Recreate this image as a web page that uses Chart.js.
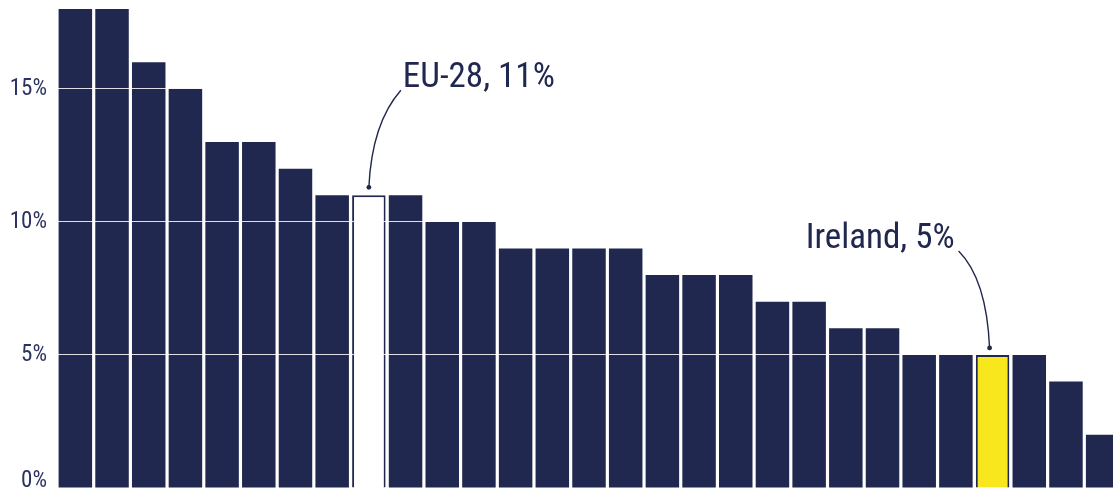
<!DOCTYPE html>
<html>
<head>
<meta charset="utf-8">
<script src="https://cdn.jsdelivr.net/npm/chart.js@4/dist/chart.umd.min.js"></script>
<style>
  html, body { margin: 0; padding: 0; background: #fff; overflow: hidden; }
  #wrap { position: relative; width: 1121px; height: 492px; }
</style>
</head>
<body>
<div id="wrap"><canvas id="chart"></canvas></div>
<script>
// ---- data ----
const categories = ['', '', '', '', '', '', '', '', 'EU-28', '', '', '', '', '', '', '', '', '', '', '', '', '', '', '', '', 'Ireland', '', '', ''];
const values = [18, 18, 16, 15, 13, 13, 12, 11, 11, 11, 10, 10, 9, 9, 9, 9, 8, 8, 8, 7, 7, 6, 6, 5, 5, 5, 5, 4, 2];
const yTicks = [0, 5, 10, 15];
const callouts = ['EU-28', 'Ireland'];

const NAVY = '#21284f';
const YELLOW = '#f8e71c';
const FONT = "'Liberation Sans Narrow', 'Roboto Condensed', 'Liberation Sans', sans-serif";

const fills = categories.map(c => c === 'EU-28' ? '#ffffff' : (c === 'Ireland' ? YELLOW : NAVY));
const borders = categories.map(c => callouts.includes(c) ? 2 : 0);

// Annotation: label text + curved leader line to the bar top
const calloutPlugin = {
  id: 'callouts',
  afterDraw(chart) {
    const { ctx, scales: { x, y } } = chart;
    ctx.save();
    ctx.fillStyle = NAVY;
    ctx.strokeStyle = NAVY;
    ctx.lineWidth = 1.4;
    ctx.font = `35px ${FONT}`;
    ctx.textBaseline = 'alphabetic';
    callouts.forEach(name => {
      const i = categories.indexOf(name);
      const v = values[i];
      const cx = x.getPixelForValue(i);
      const top = y.getPixelForValue(v);
      const text = `${name}, ${v}%`;
      let sx, sy, qx, qy, ex, ey;
      if (name === 'EU-28') {
        ctx.textAlign = 'left';
        ctx.fillText(text, cx + 34, top - 108);
        sx = cx + 32; sy = top - 105; qx = cx + 3; qy = top - 72; ex = cx; ey = top - 8;
      } else {
        ctx.textAlign = 'right';
        ctx.fillText(text, cx - 38, top - 107);
        sx = cx - 34; sy = top - 104; qx = cx - 6; qy = top - 76; ex = cx - 3; ey = top - 7;
      }
      ctx.beginPath();
      ctx.moveTo(sx, sy);
      ctx.quadraticCurveTo(qx, qy, ex, ey);
      ctx.stroke();
      ctx.beginPath();
      ctx.arc(ex, ey, 2.4, 0, Math.PI * 2);
      ctx.fill();
    });
    ctx.restore();
  }
};

new Chart(document.getElementById('chart'), {
  type: 'bar',
  data: {
    labels: categories,
    datasets: [{
      data: values,
      backgroundColor: fills,
      borderColor: NAVY,
      borderWidth: borders,
      barPercentage: 0.913,
      categoryPercentage: 1
    }]
  },
  options: {
    responsive: true,
    maintainAspectRatio: false,
    animation: false,
    devicePixelRatio: 1,
    layout: { padding: { top: 9, bottom: 4, left: 0, right: 0 } },
    plugins: { legend: { display: false }, tooltip: { enabled: false } },
    scales: {
      x: { display: false },
      y: {
        min: 0, max: 18,
        border: { display: false },
        grid: {
          z: 1,
          drawTicks: false,
          lineWidth: 1,
          color: c => (c.tick && c.tick.value === 0) ? 'rgba(0,0,0,0)' : 'rgba(255,255,255,0.85)'
        },
        afterBuildTicks: scale => { scale.ticks = yTicks.map(v => ({ value: v })); },
        afterFit: scale => { scale.width = 57; scale.paddingTop = 0; scale.paddingBottom = 0; },
        ticks: {
          padding: 10,
          color: '#2c3360',
          font: c => (c.tick && c.tick.value === 0)
            ? { family: FONT, size: 23, lineHeight: 0.55 }
            : { family: FONT, size: 23, lineHeight: 1.2 },
          callback: v => v === 0 ? ['0%', ''] : v + '%'
        }
      }
    }
  },
  plugins: [calloutPlugin]
});
</script>
</body>
</html>
